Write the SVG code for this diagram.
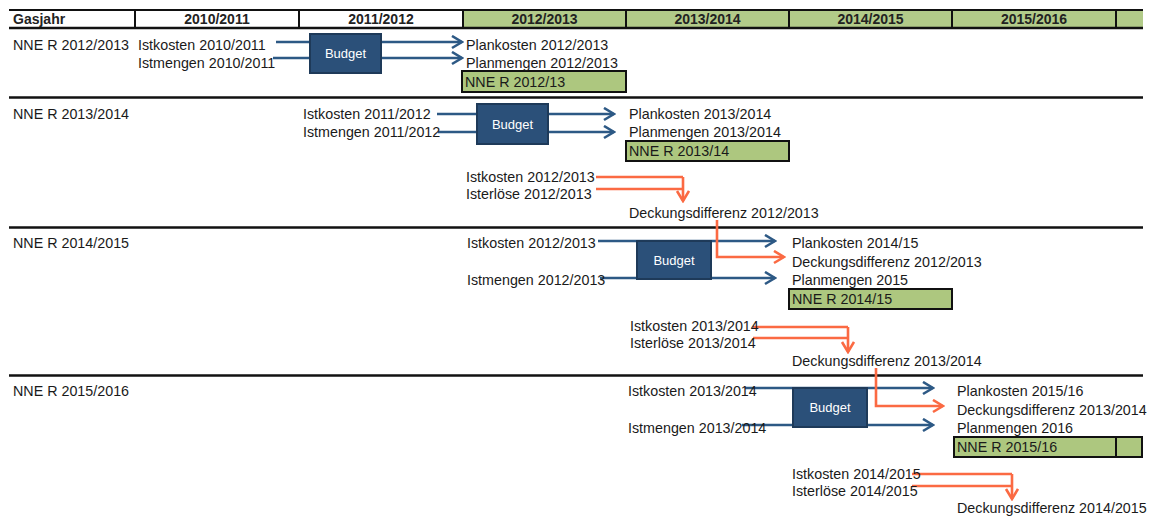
<svg xmlns="http://www.w3.org/2000/svg" width="1151" height="517" viewBox="0 0 1151 517">
<style>
text{font-family:"Liberation Sans",Arial,sans-serif;font-size:14.3px;fill:#1a1a1a}
.hd{font-weight:bold;font-size:14px;fill:#222}
.bt{fill:#fff;font-size:13px}
.rule{stroke:#111;stroke-width:2.5}
.hcell{stroke:#111;stroke-width:2}
.green{fill:#b2cb89}
.nne{fill:#adc77f;stroke:#111;stroke-width:2}
.budget{fill:#2b5079;stroke:#1e3a59;stroke-width:2}
.blue{stroke:#2d5985;stroke-width:2.6;fill:none;marker-end:url(#ab)}
.bl{stroke:#2d5985;stroke-width:2.6;fill:none}
.org{stroke:#fb6a43;stroke-width:2.6;fill:none}
.orga{stroke:#fb6a43;stroke-width:2.6;fill:none;marker-end:url(#ao)}
</style>
<defs>
<marker id="ab" markerUnits="userSpaceOnUse" markerWidth="14" markerHeight="16" refX="12" refY="7" orient="auto" viewBox="0 0 14 16">
<path d="M2,1 L12,7 L2,13" fill="none" stroke="#2d5985" stroke-width="2.6"/>
</marker>
<marker id="ao" markerUnits="userSpaceOnUse" markerWidth="14" markerHeight="16" refX="12" refY="7" orient="auto" viewBox="0 0 14 16">
<path d="M2,1 L12,7 L2,13" fill="none" stroke="#fb6a43" stroke-width="2.6"/>
</marker>
</defs>
<rect width="1151" height="517" fill="#fff"/>

<g id="header">
<rect x="463" y="10" width="680" height="18" class="green"/>
<line x1="9" y1="10" x2="1143" y2="10" class="hcell"/>
<line x1="9" y1="28" x2="1143" y2="28" class="rule"/>
<line x1="135" y1="10" x2="135" y2="28" class="hcell"/>
<line x1="299" y1="10" x2="299" y2="28" class="hcell"/>
<line x1="463" y1="10" x2="463" y2="28" class="hcell"/>
<line x1="626" y1="10" x2="626" y2="28" class="hcell"/>
<line x1="789" y1="10" x2="789" y2="28" class="hcell"/>
<line x1="952" y1="10" x2="952" y2="28" class="hcell"/>
<line x1="1116" y1="10" x2="1116" y2="28" class="hcell"/>
<text x="13" y="24" class="hd">Gasjahr</text>
<text x="217" y="24" class="hd" text-anchor="middle">2010/2011</text>
<text x="381" y="24" class="hd" text-anchor="middle">2011/2012</text>
<text x="544.5" y="24" class="hd" text-anchor="middle">2012/2013</text>
<text x="707.5" y="24" class="hd" text-anchor="middle">2013/2014</text>
<text x="870.5" y="24" class="hd" text-anchor="middle">2014/2015</text>
<text x="1034" y="24" class="hd" text-anchor="middle">2015/2016</text>
</g>

<g id="separators">
<line x1="9" y1="97.5" x2="1143" y2="97.5" class="rule"/>
<line x1="9" y1="227.5" x2="1143" y2="227.5" class="rule"/>
<line x1="9" y1="375.5" x2="1143" y2="375.5" class="rule"/>
</g>

<g id="connectors">
<line x1="276" y1="42" x2="462" y2="42" class="blue"/>
<line x1="273" y1="58" x2="462" y2="58" class="blue"/>
<line x1="437" y1="114" x2="614" y2="114" class="blue"/>
<line x1="438" y1="132" x2="614" y2="132" class="blue"/>
<line x1="598" y1="241" x2="775" y2="241" class="blue"/>
<line x1="600" y1="278" x2="775" y2="278" class="blue"/>
<line x1="745" y1="388" x2="933" y2="388" class="blue"/>
<line x1="742" y1="425" x2="933" y2="425" class="blue"/>

<line x1="596" y1="177" x2="683" y2="177" class="org"/>
<line x1="596" y1="189" x2="683" y2="189" class="org"/>
<line x1="683" y1="177" x2="683" y2="201" class="orga"/>
<polyline points="717,220 717,257 784,257" class="orga"/>

<line x1="753" y1="327" x2="848" y2="327" class="org"/>
<line x1="753" y1="338" x2="848" y2="338" class="org"/>
<line x1="848" y1="327" x2="848" y2="352" class="orga"/>
<polyline points="876,368 876,406 943,406" class="orga"/>

<line x1="912" y1="474" x2="1012" y2="474" class="org"/>
<line x1="912" y1="486" x2="1012" y2="486" class="org"/>
<line x1="1012" y1="474" x2="1012" y2="499" class="orga"/>
</g>

<g id="budget1"><rect x="310" y="34" width="71" height="39" class="budget"/><text x="345.5" y="58" class="bt" text-anchor="middle">Budget</text></g>
<g id="budget2"><rect x="477" y="104" width="71" height="40" class="budget"/><text x="512.5" y="129" class="bt" text-anchor="middle">Budget</text></g>
<g id="budget3"><rect x="637" y="241" width="74" height="38" class="budget"/><text x="674" y="265" class="bt" text-anchor="middle">Budget</text></g>
<g id="budget4"><rect x="793" y="388" width="74" height="39" class="budget"/><text x="830" y="412" class="bt" text-anchor="middle">Budget</text></g>

<g id="nne1"><rect x="462" y="71" width="164" height="21" class="nne"/><text x="465" y="87">NNE R 2012/13</text></g>
<g id="nne2"><rect x="626" y="141" width="163" height="20" class="nne"/><text x="629" y="156">NNE R 2013/14</text></g>
<g id="nne3"><rect x="789" y="289" width="163" height="20" class="nne"/><text x="792" y="304">NNE R 2014/15</text></g>
<g id="nne4"><rect x="954" y="437" width="188" height="20" class="nne"/><line x1="1116" y1="437" x2="1116" y2="457" stroke="#111" stroke-width="2"/><text x="957" y="452">NNE R 2015/16</text></g>

<g id="section1">
<text x="13" y="49.5">NNE R 2012/2013</text>
<text x="138" y="49.5">Istkosten 2010/2011</text>
<text x="138" y="67.5">Istmengen 2010/2011</text>
<text x="466" y="49.5">Plankosten 2012/2013</text>
<text x="466" y="67.5">Planmengen 2012/2013</text>
</g>

<g id="section2">
<text x="13" y="119">NNE R 2013/2014</text>
<text x="303" y="119">Istkosten 2011/2012</text>
<text x="303" y="137">Istmengen 2011/2012</text>
<text x="629" y="119">Plankosten 2013/2014</text>
<text x="629" y="137">Planmengen 2013/2014</text>
<text x="466" y="182">Istkosten 2012/2013</text>
<text x="466" y="199">Isterlöse 2012/2013</text>
<text x="629" y="217.5">Deckungsdifferenz 2012/2013</text>
</g>

<g id="section3">
<text x="13" y="248">NNE R 2014/2015</text>
<text x="467" y="248">Istkosten 2012/2013</text>
<text x="467" y="285">Istmengen 2012/2013</text>
<text x="792" y="248">Plankosten 2014/15</text>
<text x="792" y="266.5">Deckungsdifferenz 2012/2013</text>
<text x="792" y="285">Planmengen 2015</text>
<text x="630" y="331">Istkosten 2013/2014</text>
<text x="630" y="348">Isterlöse 2013/2014</text>
<text x="792" y="366">Deckungsdifferenz 2013/2014</text>
</g>

<g id="section4">
<text x="13" y="396">NNE R 2015/2016</text>
<text x="628" y="396">Istkosten 2013/2014</text>
<text x="628" y="433">Istmengen 2013/2014</text>
<text x="957" y="396">Plankosten 2015/16</text>
<text x="957" y="414.5">Deckungsdifferenz 2013/2014</text>
<text x="957" y="433">Planmengen 2016</text>
<text x="792" y="479">Istkosten 2014/2015</text>
<text x="792" y="496">Isterlöse 2014/2015</text>
<text x="957" y="513">Deckungsdifferenz 2014/2015</text>
</g>
</svg>
